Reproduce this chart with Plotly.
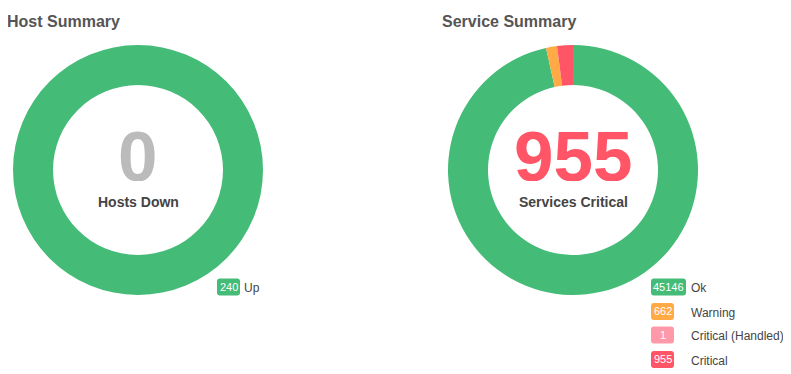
import plotly.graph_objects as go

# ---- data ----
host_labels = ["Up"]
host_values = [240]
host_colors = ["#44bb77"]
hosts_down = 0

service_labels = ["Ok", "Warning", "Critical (Handled)", "Critical"]
service_values = [45146, 662, 1, 955]
service_colors = ["#44bb77", "#ffaa44", "#ff99aa", "#ff5566"]
services_critical = 955

# page has an 8px body margin: the figure starts at (8, 8) of the window
OFF = 8
W, H = 791 - OFF, 374 - OFF

def px(x):
    return (x - OFF) / W

def py(y):
    return 1 - (y - OFF) / H

fig = go.Figure()

fig.add_trace(go.Pie(
    labels=host_labels, values=host_values, hole=0.68, sort=False,
    direction="clockwise", rotation=0, textinfo="none", hoverinfo="label+value",
    marker=dict(colors=host_colors, line=dict(width=0)),
    domain=dict(x=[px(13), px(263)], y=[py(295), py(45)]), showlegend=False,
))
fig.add_trace(go.Pie(
    labels=service_labels, values=service_values, hole=0.68, sort=False,
    direction="clockwise", rotation=0, textinfo="none", hoverinfo="label+value",
    marker=dict(colors=service_colors, line=dict(width=0)),
    domain=dict(x=[px(448), px(698)], y=[py(295), py(45)]), showlegend=False,
))

ann = []
shapes = []
FONT = "Liberation Sans, Arial, sans-serif"
# titles
ann.append(dict(x=px(5), y=py(21), text="<b>Host Summary</b>", showarrow=False,
                xanchor="left", yanchor="middle", font=dict(size=16, color="#555555", family=FONT)))
ann.append(dict(x=px(440), y=py(21), text="<b>Service Summary</b>", showarrow=False,
                xanchor="left", yanchor="middle", font=dict(size=16, color="#555555", family=FONT)))
# center texts
ann.append(dict(x=px(138), y=py(156), text="<b>%d</b>" % hosts_down, showarrow=False, height=50,
                xanchor="center", yanchor="middle", font=dict(size=71, color="#bbbbbb", family=FONT)))
ann.append(dict(x=px(138), y=py(202), text="<b>Hosts Down</b>", showarrow=False,
                xanchor="center", yanchor="middle", font=dict(size=14, color="#444444", family=FONT)))
ann.append(dict(x=px(573), y=py(156), text="<b>%d</b>" % services_critical, showarrow=False, height=50,
                xanchor="center", yanchor="middle", font=dict(size=71, color="#ff5566", family=FONT)))
ann.append(dict(x=px(573), y=py(202), text="<b>Services Critical</b>", showarrow=False,
                xanchor="center", yanchor="middle", font=dict(size=14, color="#444444", family=FONT)))


def rounded_rect(x0, y0, x1, y1, r):
    # pixel coords (top-left origin) -> paper path
    X = lambda v: px(v)
    Y = lambda v: py(v)
    return (f"M {X(x0 + r)},{Y(y0)} L {X(x1 - r)},{Y(y0)} Q {X(x1)},{Y(y0)} {X(x1)},{Y(y0 + r)} "
            f"L {X(x1)},{Y(y1 - r)} Q {X(x1)},{Y(y1)} {X(x1 - r)},{Y(y1)} "
            f"L {X(x0 + r)},{Y(y1)} Q {X(x0)},{Y(y1)} {X(x0)},{Y(y1 - r)} "
            f"L {X(x0)},{Y(y0 + r)} Q {X(x0)},{Y(y0)} {X(x0 + r)},{Y(y0)} Z")


def badge(x_left, y_mid, value, color, label, label_x):
    s = str(value)
    w = 23 if len(s) <= 3 else 35
    shapes.append(dict(type="path", xref="paper", yref="paper",
                       path=rounded_rect(x_left, y_mid - 8.5, x_left + w, y_mid + 8.5, 3),
                       fillcolor=color, line=dict(width=0), layer="above"))
    ann.append(dict(x=px(x_left + w / 2), y=py(y_mid - 0.5), text=s, showarrow=False,
                    xanchor="center", yanchor="middle",
                    font=dict(size=11, color="white", family=FONT)))
    ann.append(dict(x=px(label_x), y=py(y_mid + 1), text=label, showarrow=False,
                    xanchor="left", yanchor="middle", font=dict(size=12, color="#444444", family=FONT)))

badge(217, 287, host_values[0], host_colors[0], host_labels[0], 242)
ys = [287, 311.5, 335, 359.5]
for i in range(len(service_labels)):
    badge(651, ys[i], service_values[i], service_colors[i], service_labels[i], 689)

fig.update_layout(
    width=W, height=H, margin=dict(l=0, r=0, t=0, b=0),
    paper_bgcolor="white", plot_bgcolor="white", annotations=ann, shapes=shapes,
)

fig.write_html("out.html")
